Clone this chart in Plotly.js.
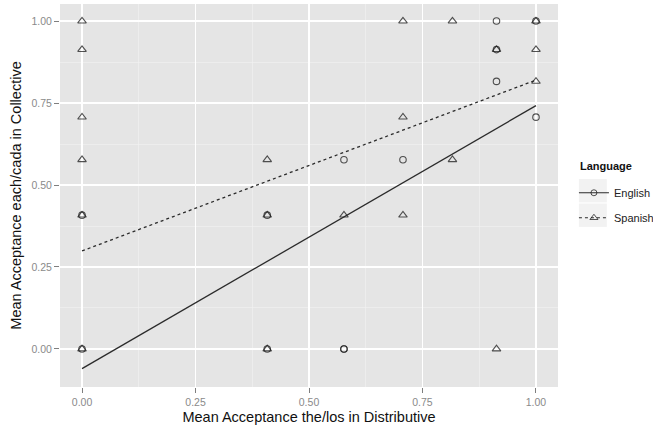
<!DOCTYPE html>
<html>
<head>
<meta charset="utf-8">
<script src="https://cdn.plot.ly/plotly-3.0.1.min.js"></script>
<style>html,body{margin:0;padding:0;background:#fff;}#chart{width:653px;height:429px;}</style>
</head>
<body>
<div id="chart"></div>
<script>
// Data
const englishX = [0, 0, 0.408, 0.408, 0.577, 0.577, 0.577, 0.707, 0.913, 0.913, 0.913, 1, 1];
const englishY = [0, 0.408, 0, 0.408, 0, 0, 0.577, 0.577, 1, 0.816, 0.913, 0.707, 1];
const spanishX = [0, 0, 0, 0, 0, 0, 0.408, 0.408, 0.408, 0.577, 0.707, 0.707, 0.707, 0.816, 0.816, 0.913, 0.913, 1, 1, 1];
const spanishY = [1, 0.913, 0.707, 0.577, 0.408, 0, 0.577, 0.408, 0, 0.408, 1, 0.707, 0.408, 1, 0.577, 0, 0.913, 1, 0.913, 0.816];
const fitX = [0, 1];
const englishFitY = [-0.06, 0.742];
const spanishFitY = [0.299, 0.82];
const tickVals = [0, 0.25, 0.5, 0.75, 1];
const tickText = ['0.00', '0.25', '0.50', '0.75', '1.00'];
const languages = ['English', 'Spanish'];

const ptColor = 'rgba(20,20,20,0.72)';
const lineColor = '#2b2b2b';
const FONT = 'Liberation Sans, Arial, sans-serif';

const traces = [
  {x: englishX, y: englishY, type: 'scatter', mode: 'markers', showlegend: false,
   marker: {symbol: 'circle-open', size: 6.5, color: ptColor, line: {width: 1.1, color: ptColor}}},
  {x: spanishX, y: spanishY, type: 'scatter', mode: 'markers', showlegend: false,
   marker: {symbol: 'triangle-up-open', size: 7.5, color: ptColor, line: {width: 1.1, color: ptColor}}},
  {x: fitX, y: englishFitY, type: 'scatter', mode: 'lines', showlegend: false,
   line: {color: lineColor, width: 1.3}},
  {x: fitX, y: spanishFitY, type: 'scatter', mode: 'lines', showlegend: false,
   line: {color: lineColor, width: 1.3, dash: 'dot'}},
  {x: [null], y: [null], type: 'scatter', mode: 'lines+markers', name: languages[0], legendgroup: 'en',
   line: {color: lineColor, width: 1.2},
   marker: {symbol: 'circle-open', size: 6, color: ptColor, line: {width: 1, color: ptColor}}},
  {x: [null], y: [null], type: 'scatter', mode: 'lines+markers', name: languages[1], legendgroup: 'es',
   line: {color: lineColor, width: 1.2, dash: 'dot'},
   marker: {symbol: 'triangle-up-open', size: 7, color: ptColor, line: {width: 1, color: ptColor}}}
];

const axisCommon = {
  tickvals: tickVals, ticktext: tickText,
  showgrid: true, gridcolor: '#FFFFFF', gridwidth: 1.2,
  zeroline: false, showline: false,
  ticks: 'outside', ticklen: 5, tickwidth: 1, tickcolor: '#7F7F7F',
  tickfont: {family: FONT, size: 10.5, color: '#8A8A8A'},
  minor: {dtick: 0.125, tick0: 0.125, showgrid: true, gridcolor: '#F2F2F2', gridwidth: 0.6, ticks: ''},
  fixedrange: true
};

const layout = {
  width: 653, height: 429,
  margin: {l: 60, r: 95, t: 4, b: 42, autoexpand: false},
  paper_bgcolor: '#FFFFFF', plot_bgcolor: '#E5E5E5',
  font: {family: FONT, color: '#000'},
  xaxis: Object.assign({}, axisCommon, {
    range: [-0.0485, 1.0485],
    title: {text: 'Mean Acceptance the/los in Distributive', font: {size: 14.5, color: '#111'}, standoff: 5}
  }),
  yaxis: Object.assign({}, axisCommon, {
    range: [-0.116, 1.052],
    title: {text: 'Mean Acceptance each/cada in Collective', font: {size: 14.5, color: '#111'}, standoff: 6}
  }),
  showlegend: true,
  legend: {
    x: 1.032, xanchor: 'left', y: 0.545, yanchor: 'top',
    bgcolor: 'rgba(0,0,0,0)', borderwidth: 0,
    font: {size: 11, color: '#222'},
    itemwidth: 30, tracegroupgap: 6
  },
  annotations: [
    {text: '<b>Language</b>', xref: 'paper', yref: 'paper', x: 1.04, y: 0.578, xanchor: 'left', yanchor: 'middle',
     showarrow: false, font: {size: 11, color: '#111', family: FONT}}
  ],
  shapes: [
    {type: 'rect', xref: 'paper', yref: 'paper', x0: 1.042, x1: 1.098, y0: 0.482, y1: 0.543, fillcolor: '#F2F2F2', line: {width: 0}, layer: 'below'},
    {type: 'rect', xref: 'paper', yref: 'paper', x0: 1.042, x1: 1.098, y0: 0.418, y1: 0.479, fillcolor: '#F2F2F2', line: {width: 0}, layer: 'below'}
  ]
};

Plotly.newPlot('chart', traces, layout, {displayModeBar: false, staticPlot: true});
</script>
</body>
</html>
